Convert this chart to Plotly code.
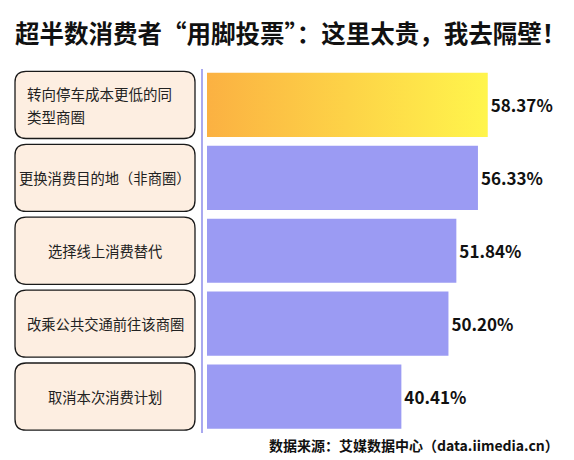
import plotly.graph_objects as go

# data
categories = [
    "转向停车成本更低的同<br>类型商圈",
    "更换消费目的地（非商圈）",
    "选择线上消费替代",
    "改乘公共交通前往该商圈",
    "取消本次消费计划",
]
shares = [58.37, 56.33, 51.84, 50.20, 40.41]
value_labels = ["58.37%", "56.33%", "51.84%", "50.20%", "40.41%"]

title_text = "超半数消费者“用脚投票”：这里太贵，我去隔壁！"
source_text = "数据来源：艾媒数据中心（data.iimedia.cn）"

W, H = 574, 460
CJK = "Noto Sans CJK SC"
bar_color = "#9b9bf3"
bar_w = 0.88

idx = list(range(len(shares)))

fig = go.Figure()

# plain bars, top one kept transparent so the gradient shape sits there
fig.add_trace(go.Bar(
    x=shares, y=idx, orientation="h", width=bar_w,
    marker=dict(color=["rgba(0,0,0,0)"] + [bar_color] * (len(shares) - 1), line=dict(width=0)),
    text=value_labels, textposition="outside", cliponaxis=False,
    textfont=dict(family=CJK, size=17, color="#111111", weight="bold"),
    hoverinfo="skip",
))

# gradient fill for the leading bar
top = shares[0]
fig.add_trace(go.Scatter(
    x=[0, top, top, 0, 0],
    y=[-bar_w / 2, -bar_w / 2, bar_w / 2, bar_w / 2, -bar_w / 2],
    mode="lines", line=dict(width=0), fill="toself",
    fillgradient=dict(type="horizontal", colorscale=[[0, "#fbb142"], [1, "#fff54c"]]),
    hoverinfo="skip", showlegend=False,
))

# rounded label boxes on the left
bx0, bx1 = 15 / W, 195 / W
rx = 11 / W
rys = 0.15
half = 0.46
line_gap = 0.16  # in category units, for the two-line label
for i, cat in enumerate(categories):
    y0, y1 = i - half, i + half
    path = (f"M {bx0 + rx} {y0} L {bx1 - rx} {y0} Q {bx1} {y0} {bx1} {y0 + rys} "
            f"L {bx1} {y1 - rys} Q {bx1} {y1} {bx1 - rx} {y1} "
            f"L {bx0 + rx} {y1} Q {bx0} {y1} {bx0} {y1 - rys} "
            f"L {bx0} {y0 + rys} Q {bx0} {y0} {bx0 + rx} {y0} Z")
    fig.add_shape(type="path", path=path, xref="paper", yref="y",
                  fillcolor="#fdeee1", line=dict(color="#1a1a1a", width=1.3), layer="below")
    parts = cat.split("<br>")
    if len(parts) > 1:
        for k, part in enumerate(parts):
            fig.add_annotation(x=25 / W, y=i + (k - 0.5) * line_gap * 2, xref="paper", yref="y",
                               text=part, showarrow=False, xanchor="left",
                               font=dict(family=CJK, size=14.5, color="#222222"))
    else:
        fig.add_annotation(x=(bx0 + bx1) / 2, y=i, xref="paper", yref="y", text=cat, showarrow=False,
                           xanchor="center", font=dict(family=CJK, size=14.3, color="#222222"))

fig.add_annotation(x=13 / W, y=1 - 32 / H, xref="paper", yref="paper", text=title_text,
                   showarrow=False, xanchor="left", yanchor="middle",
                   font=dict(family=CJK, size=24.5, color="#111111", weight="bold"))
fig.add_annotation(x=561 / W, y=1 - 445 / H, xref="paper", yref="paper", text=source_text,
                   showarrow=False, xanchor="right", yanchor="middle",
                   font=dict(family=CJK, size=14, color="#111111", weight="bold"))

px_per_unit = 4.81
x_left = 203
fig.update_layout(
    width=W, height=H, margin=dict(l=0, r=0, t=0, b=0),
    paper_bgcolor="white", plot_bgcolor="white", showlegend=False,
    xaxis=dict(domain=[x_left / W, 1], range=[-(207 - x_left) / px_per_unit, (W - x_left) / px_per_unit - (207 - x_left) / px_per_unit],
               visible=False, fixedrange=True),
    yaxis=dict(domain=[(H - 433) / H, (H - 68.5) / H], range=[len(shares) - 0.5, -0.5],
               showticklabels=False, showgrid=False, zeroline=False, ticks="",
               showline=True, linecolor="#a9a9ef", linewidth=2, fixedrange=True),
)

# drop the default page margin so the figure sits at the window corner
fig.write_html("out.html", config={"displayModeBar": False},
               post_script="document.body.style.margin='0px';")
